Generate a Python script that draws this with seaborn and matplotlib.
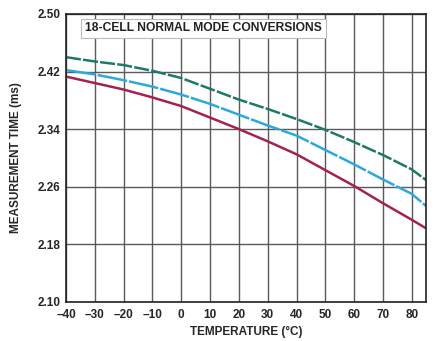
import matplotlib
matplotlib.use("Agg")
import matplotlib.pyplot as plt
import seaborn as sns
import pandas as pd
import numpy as np

sns.set_theme(style="white")
plt.rcParams["font.family"] = ["Liberation Sans", "DejaVu Sans"]

temperature = [-40, -30, -20, -10, 0, 10, 20, 30, 40, 50, 60, 70, 80, 85]
time_green = [2.440, 2.434, 2.429, 2.421, 2.411, 2.396, 2.381, 2.368, 2.354, 2.339, 2.322, 2.304, 2.284, 2.269]
time_blue = [2.422, 2.416, 2.408, 2.399, 2.388, 2.375, 2.360, 2.345, 2.331, 2.311, 2.291, 2.270, 2.250, 2.233]
time_red = [2.413, 2.404, 2.395, 2.384, 2.372, 2.356, 2.340, 2.323, 2.305, 2.283, 2.261, 2.237, 2.214, 2.202]

x_ticks = [-40, -30, -20, -10, 0, 10, 20, 30, 40, 50, 60, 70, 80]
y_ticks = [2.10, 2.18, 2.26, 2.34, 2.42, 2.50]

df = pd.DataFrame({"temp": temperature, "green": time_green,
                   "blue": time_blue, "red": time_red})

fig = plt.figure(figsize=(4.43, 3.41), dpi=100)
ax = fig.add_axes([0.149, 0.115, 0.813, 0.844])

sns.lineplot(data=df, x="temp", y="red", ax=ax, color="#a3234f", lw=1.8)
sns.lineplot(data=df, x="temp", y="blue", ax=ax, color="#2aa9df", lw=1.8)
sns.lineplot(data=df, x="temp", y="green", ax=ax, color="#1c7a68", lw=1.8)
lines = ax.get_lines()
lines[1].set_dashes([12, 0.8])
lines[2].set_dashes([6, 0.9])

ax.set_xlim(-40, 85)
ax.set_ylim(2.10, 2.50)
ax.set_xticks(x_ticks)
ax.set_yticks(y_ticks)
fs = 8.5
ax.set_xticklabels(["\u2013" + str(-t) if t < 0 else str(t) for t in x_ticks],
                   fontsize=fs, fontweight="bold")
ax.set_yticklabels([f"{v:.2f}" for v in y_ticks], fontsize=fs, fontweight="bold")
ax.tick_params(axis="x", length=0, pad=5)
ax.tick_params(axis="y", length=0, pad=4)
ax.grid(True, color="#5a5a5a", lw=1.0)
ax.set_axisbelow(True)
for s in ax.spines.values():
    s.set_color("#222222")
    s.set_linewidth(1.2)

ax.set_xlabel("TEMPERATURE (\u00b0C)", fontsize=fs, fontweight="bold", labelpad=4)
ax.set_ylabel("MEASUREMENT TIME (ms)", fontsize=fs, fontweight="bold", labelpad=11)

ax.text(-33.4, 2.480, "18-CELL NORMAL MODE CONVERSIONS", fontsize=8.7,
        fontweight="bold", va="center", ha="left", color="#222222",
        bbox=dict(boxstyle="square,pad=0.3", fc="white", ec="#bbbbbb", lw=0.8))

fig.savefig("out.png", dpi=100)
